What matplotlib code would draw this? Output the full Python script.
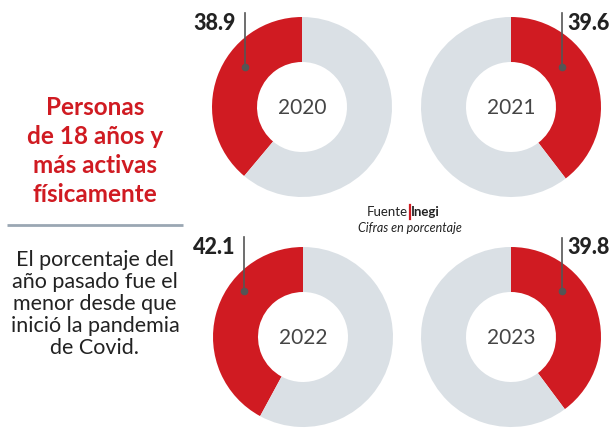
import matplotlib
matplotlib.use("Agg")
import matplotlib.pyplot as plt

# datos
anios = ["2020", "2021", "2022", "2023"]
activos = [38.9, 39.6, 42.1, 39.8]

titulo = "Personas\nde 18 años y\nmás activas\nfísicamente"
texto = "El porcentaje del\naño pasado fue el\nmenor desde que\ninició la pandemia\nde Covid."

ROJO = "#d01b22"
GRIS = "#dae0e5"
OSCURO = "#222222"

W, H = 615, 429
fig = plt.figure(figsize=(W / 100, H / 100), dpi=100)
ax = fig.add_axes([0, 0, 1, 1])


def py(y):
    # pixel y (desde arriba) -> coordenada del eje
    return H - y


# posicion de cada dona: centro, sentido, x de la guia, tramo de la guia
donas = [
    dict(c=(302, 107), ccw=True, gx=245, gy0=13, gy1=67, lab_y=23),
    dict(c=(511, 107), ccw=False, gx=562, gy0=13, gy1=67, lab_y=23),
    dict(c=(303, 337), ccw=True, gx=244, gy0=237, gy1=291, lab_y=247),
    dict(c=(511, 337), ccw=False, gx=562, gy0=238, gy1=291, lab_y=247),
]
R = 90

for anio, val, d in zip(anios, activos, donas):
    cx, cy = d["c"]
    ax.pie(
        [val, 100 - val],
        colors=[ROJO, GRIS],
        startangle=90,
        counterclock=d["ccw"],
        center=(cx, py(cy)),
        radius=R,
        wedgeprops=dict(width=R * 0.5, linewidth=0),
        frame=True,
    )
    ax.text(cx, py(cy + 1), anio, ha="center", va="center",
            fontsize=15, color="#454545", family="Lato")
    # guia y etiqueta
    gx = d["gx"]
    ax.plot([gx, gx], [py(d["gy0"]), py(d["gy1"])], color="#555555", lw=1.2)
    ax.plot(gx, py(d["gy1"]), "o", color="#555555", ms=4.5)
    if d["ccw"]:
        ax.text(gx - 9, py(d["lab_y"]), f"{val:.1f}", ha="right", va="center",
                fontsize=15.5, fontweight="black", color=OSCURO, family="Lato")
    else:
        ax.text(gx + 5, py(d["lab_y"]), f"{val:.1f}", ha="left", va="center",
                fontsize=15.5, fontweight="black", color=OSCURO, family="Lato")

ax.set_xlim(0, W)
ax.set_ylim(0, H)
ax.set_aspect("equal")
ax.axis("off")

# titulo y texto
ax.text(95, py(151), titulo, ha="center", va="center", fontsize=17.5,
        fontweight="bold", color=ROJO, family="Lato", linespacing=1.33)
ax.plot([7, 183], [py(225), py(225)], color="#9aa7b3", lw=2,
        solid_capstyle="butt")
ax.text(95, py(304), texto, ha="center", va="center", fontsize=15.5,
        color=OSCURO, family="Lato", linespacing=1.13)

# fuente
ax.text(408, py(212), "Fuente", ha="right", va="center", fontsize=9.5,
        color=OSCURO, family="Lato")
ax.plot([409.5, 409.5], [py(205), py(219)], color=ROJO, lw=1.6)
ax.text(411, py(212), "Inegi", ha="left", va="center", fontsize=9.5,
        fontweight="bold", color=OSCURO, family="Lato")
ax.text(410, py(228), "Cifras en porcentaje", ha="center", va="center",
        fontsize=9, style="italic", color=OSCURO, family="Lato")

fig.savefig("out.png", dpi=100)
